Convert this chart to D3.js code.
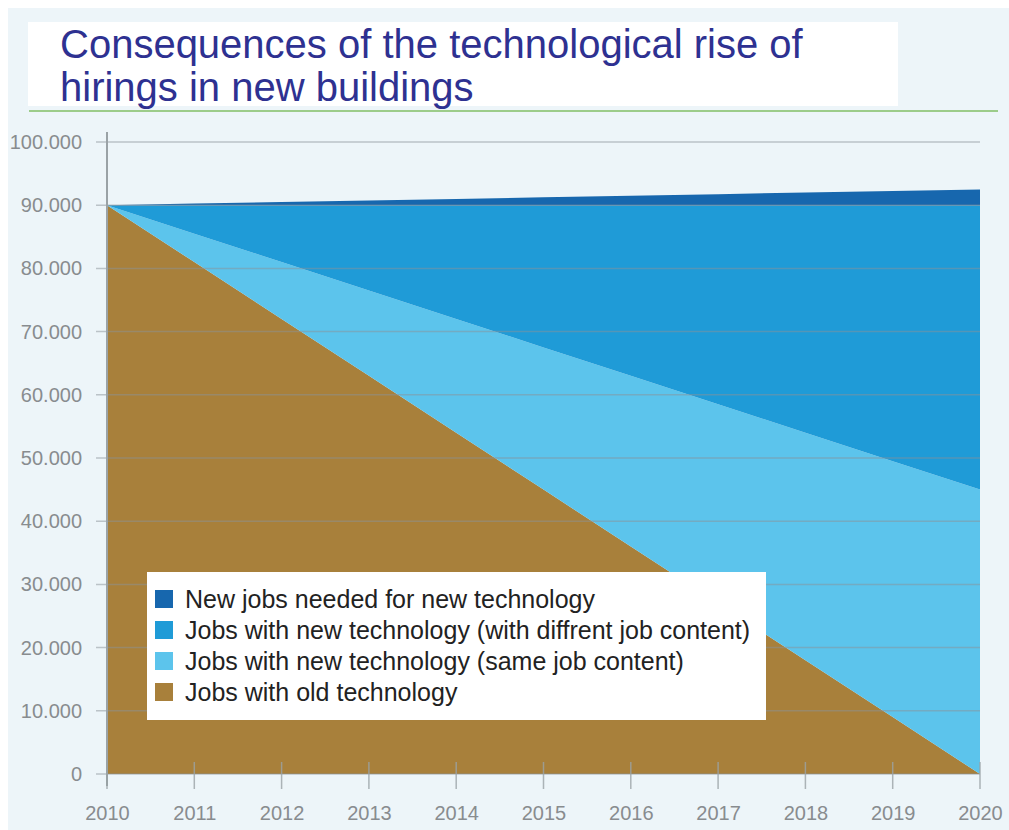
<!DOCTYPE html>
<html>
<head>
<meta charset="utf-8">
<script src="https://cdn.jsdelivr.net/npm/d3@7"></script>
<style>
  html, body { margin: 0; padding: 0; background: #ffffff; }
  svg { display: block; }
</style>
</head>
<body>
<svg id="chart" width="1009" height="830"></svg>
<script>
const years = [2010, 2011, 2012, 2013, 2014, 2015, 2016, 2017, 2018, 2019, 2020];
const oldTech = [90000, 81000, 72000, 63000, 54000, 45000, 36000, 27000, 18000, 9000, 0];
const sameContent = [0, 4500, 9000, 13500, 18000, 22500, 27000, 31500, 36000, 40500, 45000];
const diffContent = [0, 4500, 9000, 13500, 18000, 22500, 27000, 31500, 36000, 40500, 45000];
const newJobs = [0, 250, 500, 750, 1000, 1250, 1500, 1750, 2000, 2250, 2500];
const yTicks = [0, 10000, 20000, 30000, 40000, 50000, 60000, 70000, 80000, 90000, 100000];

const seriesKeys = ["old", "same", "diff", "new"];
const seriesColors = { old: "#a8803b", same: "#5cc4ec", diff: "#1f9bd7", new: "#1767ae" };
const legendItems = [
  { key: "new", label: "New jobs needed for new technology" },
  { key: "diff", label: "Jobs with new technology (with diffrent job content)" },
  { key: "same", label: "Jobs with new technology (same job content)" },
  { key: "old", label: "Jobs with old technology" }
];

const table = years.map((yr, i) => ({
  year: yr, old: oldTech[i], same: sameContent[i], diff: diffContent[i], new: newJobs[i]
}));

const svg = d3.select("#chart");
const font = "'Liberation Sans', Arial, Helvetica, sans-serif";

// panel background
svg.append("rect").attr("x", 8).attr("y", 8).attr("width", 1001).attr("height", 822).attr("fill", "#edf5f9");

// title box
svg.append("rect").attr("x", 28).attr("y", 22).attr("width", 870).attr("height", 84).attr("fill", "#ffffff");
const title = svg.append("text")
  .attr("font-family", font)
  .attr("font-size", 40)
  .attr("fill", "#2e3191");
title.append("tspan").attr("x", 60).attr("y", 58).text("Consequences of the technological rise of");
title.append("tspan").attr("x", 60).attr("y", 101).text("hirings in new buildings");

svg.append("line").attr("x1", 29).attr("x2", 998).attr("y1", 111).attr("y2", 111)
  .attr("stroke", "#9ccc8a").attr("stroke-width", 2);

const x = d3.scaleLinear().domain([2010, 2020]).range([107, 980]);
const y = d3.scaleLinear().domain([0, 100000]).range([774, 142]);

const stack = d3.stack().keys(seriesKeys);
const layers = stack(table);

const area = d3.area()
  .x(d => x(d.data.year))
  .y0(d => y(d[0]))
  .y1(d => y(d[1]));

svg.append("g")
  .selectAll("path")
  .data(layers)
  .join("path")
  .attr("fill", d => seriesColors[d.key])
  .attr("d", area);

// gridlines on top of areas
svg.append("g")
  .selectAll("line")
  .data(yTicks)
  .join("line")
  .attr("x1", x(2010) - 11)
  .attr("x2", x(2020))
  .attr("y1", d => y(d))
  .attr("y2", d => y(d))
  .attr("stroke", "#8a9297")
  .attr("stroke-opacity", 0.5)
  .attr("stroke-width", 1.5);

// y axis
const yAxis = svg.append("g")
  .attr("transform", `translate(${x(2010)},0)`)
  .call(d3.axisLeft(y).tickValues(yTicks).tickSize(0).tickPadding(25)
    .tickFormat(d => d === 0 ? "0" : d3.format(",")(d).replace(",", ".")));
yAxis.select(".domain").remove();
yAxis.selectAll("text")
  .attr("font-family", font)
  .attr("font-size", 20)
  .attr("fill", "#888c8f");

svg.append("line")
  .attr("x1", x(2010)).attr("x2", x(2010))
  .attr("y1", 132).attr("y2", 786)
  .attr("stroke", "#9aa2a6").attr("stroke-width", 2);

// x axis
const xAxis = svg.append("g")
  .attr("transform", `translate(0,${y(0)})`)
  .call(d3.axisBottom(x).tickValues(years).tickSize(0).tickPadding(32).tickFormat(d3.format("d")));
xAxis.select(".domain").remove();
xAxis.selectAll("text")
  .attr("font-family", font)
  .attr("font-size", 20)
  .attr("fill", "#888c8f");

svg.append("g")
  .selectAll("line")
  .data(years)
  .join("line")
  .attr("x1", d => x(d))
  .attr("x2", d => x(d))
  .attr("y1", y(0) - 12)
  .attr("y2", y(0) + 15)
  .attr("stroke", "#9aa2a6")
  .attr("stroke-opacity", 0.8)
  .attr("stroke-width", 1.5);

// legend
const legend = svg.append("g").attr("transform", "translate(147,572)");
legend.append("rect").attr("width", 619).attr("height", 148).attr("fill", "#ffffff");
const rows = legend.selectAll("g")
  .data(legendItems)
  .join("g")
  .attr("transform", (d, i) => `translate(0,${27 + i * 31})`);
rows.append("rect")
  .attr("x", 8).attr("y", -9).attr("width", 18).attr("height", 18)
  .attr("fill", d => seriesColors[d.key]);
rows.append("text")
  .attr("x", 38).attr("y", 9)
  .attr("font-family", font)
  .attr("font-size", 25)
  .attr("fill", "#222222")
  .text(d => d.label);
</script>
</body>
</html>
